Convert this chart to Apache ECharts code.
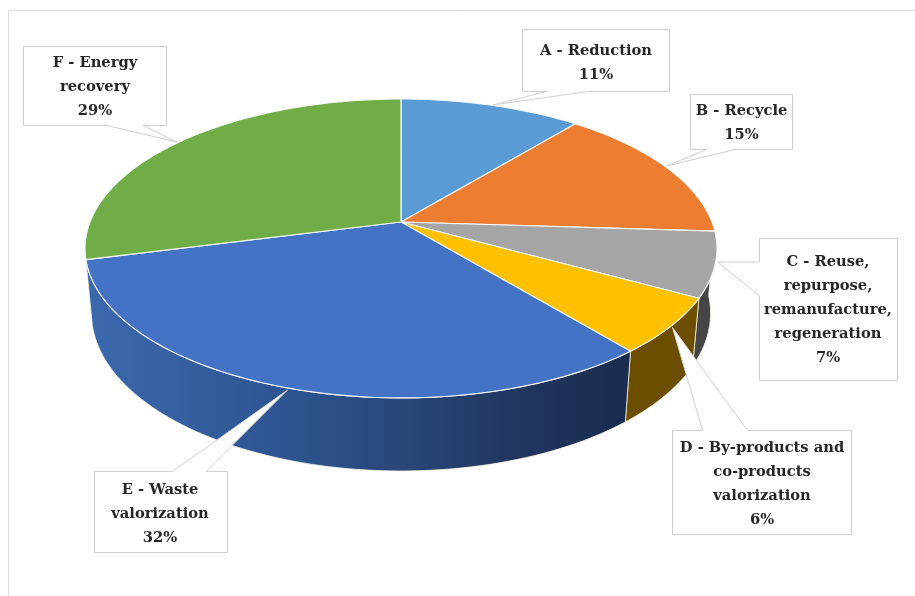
<!DOCTYPE html>
<html>
<head>
<meta charset="utf-8">
<style>html,body{margin:0;padding:0;background:#fff}#chart{width:915px;height:596px}</style>
<script src="https://cdn.jsdelivr.net/npm/echarts@6/dist/echarts.min.js"></script>
</head>
<body>
<div id="chart"></div>
<script>
// Shares of the valorization routes, clockwise from twelve o'clock
const categories = ['A - Reduction', 'B - Recycle', 'C - Reuse,\nrepurpose,\nremanufacture,\nregeneration', 'D - By-products and\nco-products\nvalorization', 'E - Waste\nvalorization', 'F - Energy\nrecovery'];
const shares = [11, 15, 7, 6, 32, 29];
const topColors = ['#5b9bd5', '#ed7d31', '#a5a5a5', '#ffc000', '#4472c4', '#70ad47'];

// Perspective disc: apex, radii, foreshortening, and the drop of the lower rim
const disc = { cx: 401, cy: 222, rx: 311, ry: 144.8, tilt: 0.177, depth: 65.1, shrink: 0.02 };

// Callout boxes and their pointers, in page pixels
const calloutBoxes = [
  { box: [522.5, 29.5, 147, 62], tail: [[546.5, 91.5], [493, 105], [588, 91.5]], tx: 596, ty: 51 },
  { box: [690.5, 94.5, 102, 55], tail: [[706.5, 149.5], [666.5, 166], [735, 149.5]], tx: 741.5, ty: 111 },
  { box: [759.5, 238.5, 138, 142], tail: [[759.5, 262], [718, 262], [759.5, 296]], tx: 828, ty: 262 },
  { box: [672.5, 430.5, 179, 104], tail: [[702.5, 430.5], [672.5, 327.5], [747.5, 430.5]], tx: 762, ty: 448 },
  { box: [94.5, 471.5, 133, 81], tail: [[172.5, 471.5], [287.5, 390], [206, 471.5]], tx: 160, ty: 490 },
  { box: [23.5, 46.5, 143, 79], tail: [[107, 125.5], [177, 142], [143, 125.5]], tx: 95, ty: 63.5 }
];

const total = shares.reduce((a, b) => a + b, 0);
const starts = [];
shares.reduce((sum, v, i) => { starts[i] = sum / total * 360; return sum + v; }, 0);

// Screen position of a rim point; level 0 is the top face, 1 the lower rim
function rimPoint(deg, level) {
  const t = deg * Math.PI / 180, u = Math.sin(t), v = -Math.cos(t);
  const w = 1 - disc.tilt * v + disc.shrink * level;
  return [disc.cx + disc.rx * u / w, disc.cy + (disc.ry * v + disc.depth * level) / w];
}
function arc(a, b, level) {
  const pts = [], n = Math.max(2, Math.ceil(Math.abs(b - a) / 1.5));
  for (let i = 0; i <= n; i++) pts.push(rimPoint(a + (b - a) * i / n, level));
  return pts;
}

// Side wall shading for the slices that show a wall
const hshade = (stops) => ({ type: 'linear', x: disc.cx - disc.rx, y: 0, x2: disc.cx + disc.rx, y2: 0, global: true,
  colorStops: stops.map(([o, c]) => ({ offset: o, color: c })) });
const sideFills = [null, null, '#454545', '#6b4e00',
  hshade([[0, '#3b69ae'], [0.3, '#2e5592'], [0.5, '#294778'], [0.68, '#213760'], [0.85, '#1a2c50'], [1, '#172a4c']]),
  null];

const option = {
  animation: false,
  graphic: [{ type: 'polyline', silent: true, z: 0, shape: { points: [[8.5, 620], [8.5, 10.5], [930, 10.5]] },
    style: { fill: 'none', stroke: '#dcdcdc', lineWidth: 1 } }],
  series: [
    {
      // Front wall of the disc, only where a slice faces the viewer
      type: 'custom', coordinateSystem: 'none', z: 1, silent: true, data: shares,
      renderItem(params) {
        const i = params.dataIndex;
        if (!sideFills[i]) return { type: 'group', children: [] };
        const a = starts[i];
        const b = a + shares[i] / total * 360;
        return {
          type: 'polygon',
          shape: { points: arc(a, b, 0).concat(arc(b, a, 1)) },
          style: { fill: sideFills[i], stroke: 'rgba(255,248,225,0.75)', lineWidth: 1 }
        };
      }
    },
    {
      // Top face slices fanned out from the apex
      type: 'custom', coordinateSystem: 'none', z: 2, silent: true, data: shares,
      renderItem(params, api) {
        const i = params.dataIndex, a = starts[i], b = a + api.value(0) / total * 360;
        return {
          type: 'polygon',
          shape: { points: [[disc.cx, disc.cy]].concat(arc(a, b, 0)) },
          style: { fill: topColors[i], stroke: '#f6f8fb', lineWidth: 1.2, lineJoin: 'round' }
        };
      }
    },
    {
      // Callout box, pointer and label for each slice
      type: 'custom', coordinateSystem: 'none', z: 3, silent: true, data: shares,
      renderItem(params, api) {
        const i = params.dataIndex, c = calloutBoxes[i];
        const [x, y, w, h] = c.box;
        const lines = categories[i].split('\n').concat(api.value(0) + '%');
        const tip = c.tail;
        let outline;
        if (tip[0][0] === x && tip[2][0] === x) {
          outline = [[x, y], [x + w, y], [x + w, y + h], [x, y + h], tip[2], tip[1], tip[0]];
        } else if (tip[0][1] === y) {
          outline = [[x, y], tip[0], tip[1], tip[2], [x + w, y], [x + w, y + h], [x, y + h]];
        } else {
          outline = [[x, y], [x + w, y], [x + w, y + h], tip[2], tip[1], tip[0], [x, y + h]];
        }
        const children = [{
          type: 'polygon', shape: { points: outline },
          style: { fill: '#fff', stroke: '#cfcfcf', lineWidth: 1 }
        }];
        lines.forEach((text, n) => children.push({
          type: 'text', z2: 5,
          style: { text, x: c.tx, y: c.ty + n * 24, align: 'center', verticalAlign: 'middle',
            font: 'bold 14.7px "DejaVu Serif", serif', fill: '#262626' }
        }));
        return { type: 'group', children };
      }
    }
  ]
};
echarts.init(document.getElementById('chart'), null, { renderer: 'canvas' }).setOption(option);
</script>
</body>
</html>
